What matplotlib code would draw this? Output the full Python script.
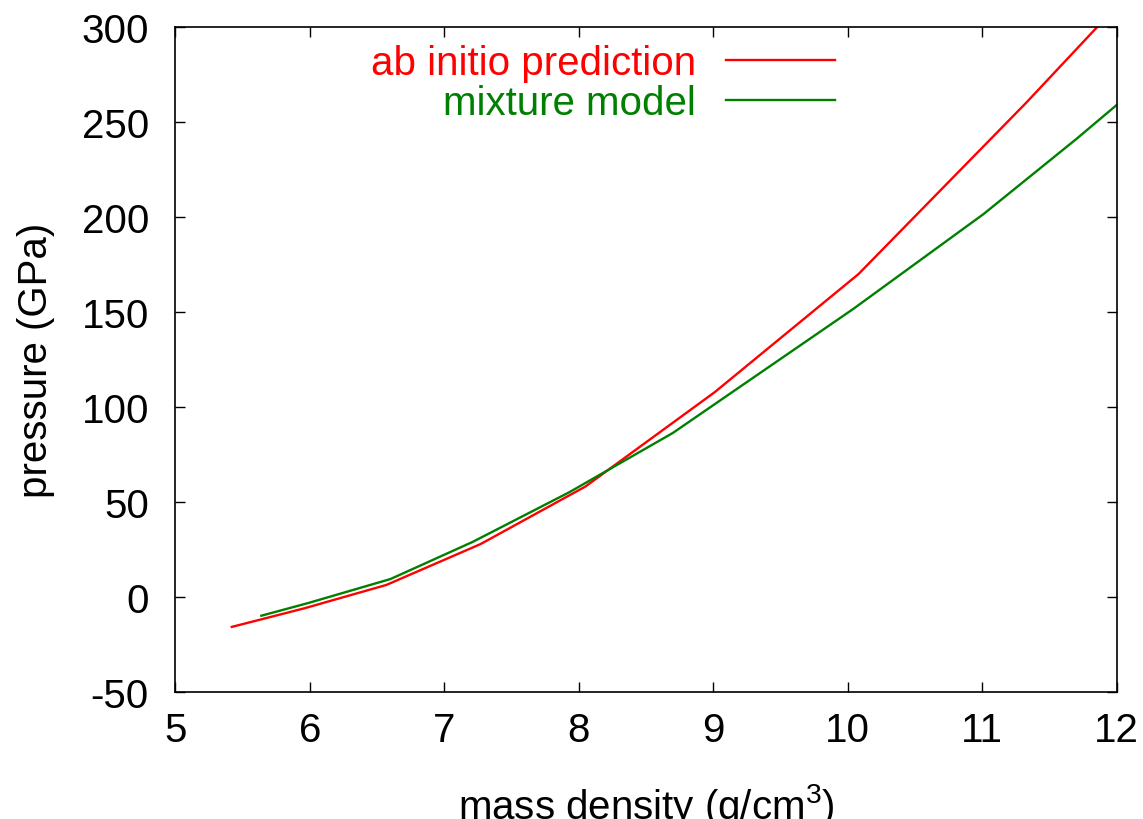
import matplotlib
matplotlib.use('Agg')
import matplotlib.pyplot as plt

# mass density (g/cm^3) and pressure (GPa)
rho_abinitio = [5.42, 5.96, 6.57, 7.27, 8.05, 9.01, 10.08, 11.33, 11.95]
p_abinitio = [-15.9, -6.1, 6.2, 27.7, 58.0, 107.6, 169.8, 260.2, 307.0]

rho_mixture = [5.64, 5.99, 6.60, 7.21, 7.93, 8.70, 10.04, 11.01, 11.70, 12.0]
p_mixture = [-10.0, -3.3, 9.3, 28.8, 55.0, 86.2, 151.4, 201.4, 240.9, 258.8]

x_ticks = [5, 6, 7, 8, 9, 10, 11, 12]
y_ticks = [-50, 0, 50, 100, 150, 200, 250, 300]

plt.rcParams['font.family'] = ['Liberation Sans', 'DejaVu Sans']
plt.rcParams['mathtext.fontset'] = 'custom'
plt.rcParams['mathtext.rm'] = 'Liberation Sans'
plt.rcParams['mathtext.it'] = 'Liberation Sans:italic'
plt.rcParams['axes.unicode_minus'] = False

fig = plt.figure(figsize=(11.43, 8.2), dpi=100)
ax = fig.add_axes([175.3 / 1143, 1 - 692.7 / 820, (1116.7 - 175.3) / 1143, (692.7 - 27.7) / 820])

ax.plot(rho_abinitio, p_abinitio, color='#ff0000', lw=1.7, label='ab initio prediction')
ax.plot(rho_mixture, p_mixture, color='#008000', lw=1.7, label='mixture model')

ax.set_xlim(5, 12)
ax.set_ylim(-50, 300)
ax.set_xticks(x_ticks)
ax.set_yticks(y_ticks)
ax.tick_params(direction='in', length=7, width=1.0, labelsize=29,
               top=True, right=True)
ax.tick_params(axis='x', pad=14)
ax.tick_params(axis='y', pad=19)
for s in ax.spines.values():
    s.set_linewidth(1.2)
    s.set_color('black')

# the label sits partly below the bottom edge, as in the original
ax.set_xlabel('mass density (g/cm$^3$)', fontsize=29, labelpad=23)
ax.set_ylabel('pressure (GPa)', fontsize=29, labelpad=19)

# gnuplot-style key: text right-aligned, sample line after it
leg = ax.legend(loc='upper right', bbox_to_anchor=(0.701, 0.974), frameon=False,
                markerfirst=False, fontsize=29, handlelength=2.7,
                handletextpad=0.75, labelspacing=0.05, borderpad=0,
                borderaxespad=0)
for txt, line in zip(leg.get_texts(), leg.get_lines()):
    txt.set_color(line.get_color())

fig.savefig('out.png', dpi=100)
